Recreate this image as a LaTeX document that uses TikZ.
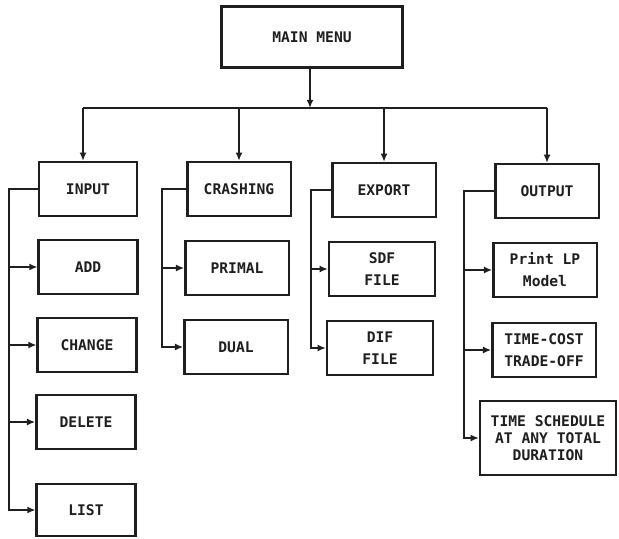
\documentclass[tikz,border=0pt]{standalone}
\usepackage{fontspec}
\newfontfamily\menufont{DejaVu Sans Mono}
\usetikzlibrary{arrows.meta,positioning}
\colorlet{ink}{black!88}
\tikzset{
  >={Latex[length=7pt,width=6pt]},
  arrow/.style={-{Latex[length=7pt,width=6pt]}, draw=ink, line width=2pt},
  connector/.style={draw=ink, line width=2pt},
  menubox/.style={
    draw=ink,
    fill=white,
    line width=2pt,
    minimum width=3.1cm,
    minimum height=1.62cm,
    inner sep=2pt,
    align=center,
    font=\menufont\bfseries\fontsize{12.5}{18.8}\selectfont,
    text=ink
  }
}

\begin{document}
\begin{tikzpicture}[x=0.03cm,y=-0.03cm]
  \useasboundingbox[fill=white] (0,0) rectangle (619,539);

  \node[menubox, minimum width=5.43cm, minimum height=1.83cm] (main) at (312,37) {MAIN MENU};

  % first level
  \node[menubox, minimum width=2.94cm] (input) at (88,189) {INPUT};
  \node[menubox] (crashing) at (239,189) {CRASHING};
  \node[menubox] (export) at (384,190) {EXPORT};
  \node[menubox] (output) at (547,191) {OUTPUT};

  % under input
  \node[menubox, minimum width=2.96cm] (add) at (88,267) {ADD};
  \node[menubox, minimum width=2.96cm] (change) at (87,345) {CHANGE};
  \node[menubox, minimum width=2.98cm] (delete) at (86,422) {DELETE};
  \node[menubox, minimum width=2.96cm, minimum height=1.56cm] (list) at (86,510) {LIST};

  % under crashing
  \node[menubox] (primal) at (237,268) {PRIMAL};
  \node[menubox] (dual) at (236,347) {DUAL};

  % under export
  \node[menubox, minimum width=3.18cm] (sdf) at (382,269) {SDF\\FILE};
  \node[menubox, minimum width=3.18cm] (dif) at (380,348) {DIF\\FILE};

  % under output
  \node[menubox] (print) at (545,270) {Print LP\\Model};
  \node[menubox] (tradeoff) at (544,350) {TIME-COST\\TRADE-OFF};
  \node[menubox, minimum width=4.08cm, minimum height=2.22cm,
        font=\menufont\bfseries\fontsize{12.5}{14.6}\selectfont] (schedule) at (548,438)
        {TIME SCHEDULE\\AT ANY TOTAL\\DURATION};

  \coordinate (bus) at (310,108);
  \coordinate (busL) at (83,108);
  \coordinate (busR) at (output.north |- bus);
  \draw[arrow] (main.south -| bus) -- (bus);
  \draw[connector] (busL) -- (busR);
  \draw[arrow] (busL) -- (busL |- input.north);
  \draw[arrow] (crashing.north |- bus) -- (crashing.north);
  \draw[arrow] (export.north |- bus) -- (export.north);
  \draw[arrow] (busR) -- (output.north);

  \draw[arrow] (input.west) -- ++(-29,0) |- (add.west);
  \draw[arrow] (input.west) -- ++(-29,0) |- (change.west);
  \draw[arrow] (input.west) -- ++(-29,0) |- (delete.west);
  \draw[arrow] (input.west) -- ++(-29,0) |- (list.west);

  \draw[arrow] (crashing.west) -- ++(-24,0) |- (primal.west);
  \draw[arrow] (crashing.west) -- ++(-24,0) |- (dual.west);

  \draw[arrow] (export.west) -- ++(-20,0) |- (sdf.west);
  \draw[arrow] (export.west) -- ++(-20,0) |- (dif.west);

  \draw[arrow] (output.west) -- ++(-30,0) |- (print.west);
  \draw[arrow] (output.west) -- ++(-30,0) |- (tradeoff.west);
  \draw[arrow] (output.west) -- ++(-30,0) |- (schedule.west);
\end{tikzpicture}
\end{document}
